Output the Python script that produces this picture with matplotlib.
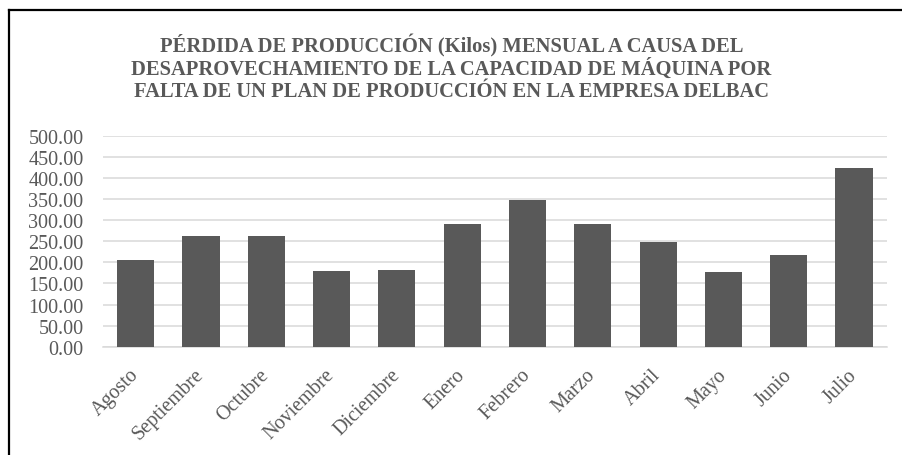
import matplotlib.pyplot as plt
from matplotlib.lines import Line2D
from matplotlib.ticker import FormatStrFormatter

plt.rcParams['font.family'] = ['Liberation Serif', 'DejaVu Serif']

meses = ["Agosto", "Septiembre", "Octubre", "Noviembre", "Diciembre", "Enero",
         "Febrero", "Marzo", "Abril", "Mayo", "Junio", "Julio"]
perdida_kg = [205.5, 261.6, 261.6, 179.4, 182.5, 290.0,
              348.4, 290.0, 248.0, 177.0, 216.5, 422.7]
y_ticks = [0, 50, 100, 150, 200, 250, 300, 350, 400, 450, 500]

titulo = ("PÉRDIDA DE PRODUCCIÓN (Kilos) MENSUAL A CAUSA DEL\n"
          "DESAPROVECHAMIENTO DE LA CAPACIDAD DE MÁQUINA POR\n"
          "FALTA DE UN PLAN DE PRODUCCIÓN EN LA EMPRESA DELBAC")

gris = "#595959"

fig = plt.figure(figsize=(9.03, 4.56), dpi=100)
ax = fig.add_axes([0.114, 0.2375, 0.868, 0.4625])

x = range(len(meses))
ax.bar(x, perdida_kg, width=0.57, color=gris, zorder=3)

ax.set_xlim(-0.5, len(meses) - 0.5)
ax.set_ylim(0, 500)
ax.set_yticks(y_ticks)
ax.yaxis.set_major_formatter(FormatStrFormatter('%.2f'))
ax.grid(axis='y', color='#d9d9d9', linewidth=1.1, zorder=0)
for s in ['top', 'right', 'left']:
    ax.spines[s].set_visible(False)
ax.spines['bottom'].set_color('#d9d9d9')
ax.spines['bottom'].set_linewidth(1.1)

ax.set_xticks(list(x))
ax.set_xticklabels(meses, rotation=45, ha='right', va='center',
                   rotation_mode='anchor')
ax.tick_params(axis='both', length=0, labelsize=14.5, labelcolor=gris)
ax.tick_params(axis='y', pad=14)
ax.tick_params(axis='x', pad=18)

fig.text(0.5, 0.851, titulo, ha='center', va='center', fontsize=14.8,
         fontweight='bold', color=gris, linespacing=1.1)

# marco exterior del gráfico
fig.add_artist(Line2D([9.5 / 903, 1], [1 - 10.5 / 456, 1 - 10.5 / 456],
                      transform=fig.transFigure, color='black', linewidth=1.6))
fig.add_artist(Line2D([9.5 / 903, 9.5 / 903], [0, 1 - 10.5 / 456],
                      transform=fig.transFigure, color='black', linewidth=1.6))

fig.savefig("out.png", dpi=100)
